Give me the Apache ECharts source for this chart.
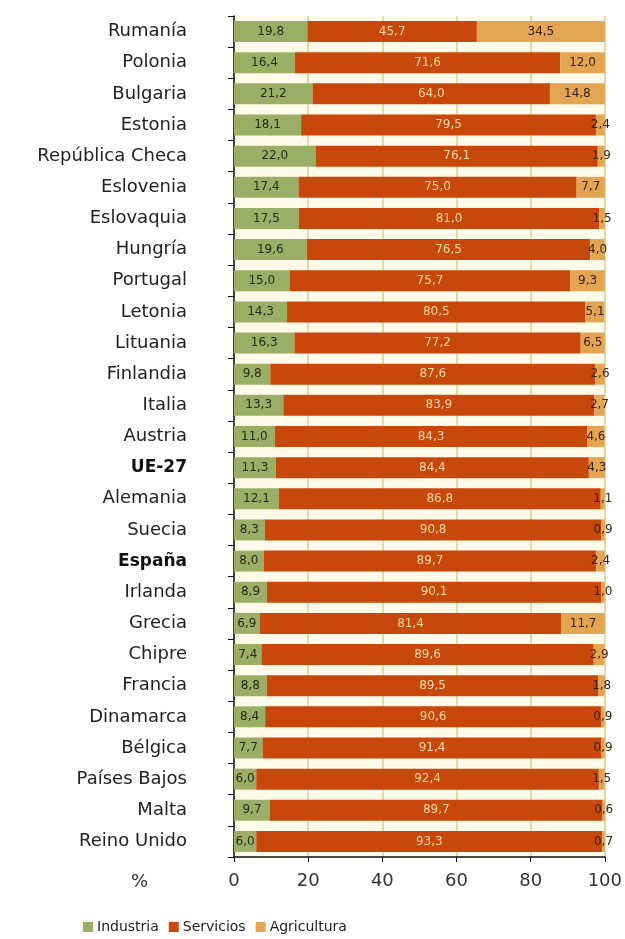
<!DOCTYPE html>
<html>
<head>
<meta charset="utf-8">
<script src="https://cdn.jsdelivr.net/npm/echarts@6/dist/echarts.min.js"></script>
<style>
  html, body { margin: 0; padding: 0; background: #fff; }
  #chart { width: 625px; height: 939px; }
</style>
</head>
<body>
<div id="chart"></div>
<script>
// Categories, top to bottom
const paises = [
  'Rumanía', 'Polonia', 'Bulgaria', 'Estonia', 'República Checa', 'Eslovenia',
  'Eslovaquia', 'Hungría', 'Portugal', 'Letonia', 'Lituania', 'Finlandia',
  'Italia', 'Austria', 'UE-27', 'Alemania', 'Suecia', 'España', 'Irlanda',
  'Grecia', 'Chipre', 'Francia', 'Dinamarca', 'Bélgica', 'Países Bajos',
  'Malta', 'Reino Unido'
];
const industria = [
  19.8, 16.4, 21.2, 18.1, 22.0, 17.4, 17.5, 19.6, 15.0, 14.3, 16.3, 9.8,
  13.3, 11.0, 11.3, 12.1, 8.3, 8.0, 8.9, 6.9, 7.4, 8.8, 8.4, 7.7, 6.0, 9.7, 6.0
];
const servicios = [
  45.7, 71.6, 64.0, 79.5, 76.1, 75.0, 81.0, 76.5, 75.7, 80.5, 77.2, 87.6,
  83.9, 84.3, 84.4, 86.8, 90.8, 89.7, 90.1, 81.4, 89.6, 89.5, 90.6, 91.4, 92.4, 89.7, 93.3
];
const agricultura = [
  34.5, 12.0, 14.8, 2.4, 1.9, 7.7, 1.5, 4.0, 9.3, 5.1, 6.5, 2.6,
  2.7, 4.6, 4.3, 1.1, 0.9, 2.4, 1.0, 11.7, 2.9, 1.8, 0.9, 0.9, 1.5, 0.6, 0.7
];
const ticksX = [0, 20, 40, 60, 80, 100];
const destacados = ['UE-27', 'España'];

const chart = echarts.init(document.getElementById('chart'));

const fmt = (p) => p.value.toFixed(1).replace('.', ',');

function serie(name, data, color, labelColor) {
  return {
    name: name,
    type: 'bar',
    stack: 'total',
    data: data,
    barWidth: 21,
    itemStyle: { color: color },
    label: {
      show: true,
      position: 'inside',
      formatter: fmt,
      color: labelColor,
      fontFamily: 'DejaVu Sans',
      fontSize: 12
    }
  };
}

chart.setOption({
  animation: false,
  backgroundColor: '#ffffff',
  grid: {
    left: 234,
    right: 20,
    top: 16,
    bottom: 82,
    show: true,
    backgroundColor: '#fffbea',
    borderWidth: 0
  },
  legend: {
    data: ['Industria', 'Servicios', 'Agricultura'],
    left: 78,
    top: 915,
    itemWidth: 10,
    itemHeight: 10,
    itemGap: 10,
    icon: 'rect',
    textStyle: { fontFamily: 'DejaVu Sans', fontSize: 14, color: '#222', padding: [0, 0, 0, -1] }
  },
  graphic: [{
    type: 'text',
    left: 131,
    top: 873,
    style: { text: '%', font: '18px "DejaVu Sans"', fill: '#333' }
  }],
  xAxis: {
    type: 'value',
    min: 0,
    max: 100,
    interval: 20,
    axisLine: { show: true, lineStyle: { color: '#111', width: 1.5 } },
    axisTick: { show: true, length: 5, lineStyle: { color: '#111' } },
    axisLabel: {
      fontFamily: 'DejaVu Sans',
      fontSize: 18,
      color: '#333',
      margin: 15,
      formatter: (v) => (ticksX.includes(v) ? String(v) : '')
    },
    splitLine: { show: true, lineStyle: { color: '#e6d9a8', width: 2 } }
  },
  yAxis: {
    type: 'category',
    inverse: true,
    data: paises,
    axisLine: { show: true, lineStyle: { color: '#111', width: 1.5 } },
    axisTick: { show: true, length: 6, lineStyle: { color: '#111' } },
    axisLabel: {
      fontFamily: 'DejaVu Sans',
      fontSize: 18,
      color: '#222',
      margin: 47,
      formatter: (v) => (destacados.includes(v) ? '{b|' + v + '}' : v),
      rich: {
        b: { fontFamily: 'DejaVu Sans', fontWeight: 'bold', fontSize: 17, color: '#111' }
      }
    }
  },
  series: [
    serie('Industria', industria, '#9bae66', '#2a2a1a'),
    serie('Servicios', servicios, '#c8470a', '#f9d8a6'),
    serie('Agricultura', agricultura, '#e4a553', '#3a2410')
  ]
});
</script>
</body>
</html>
